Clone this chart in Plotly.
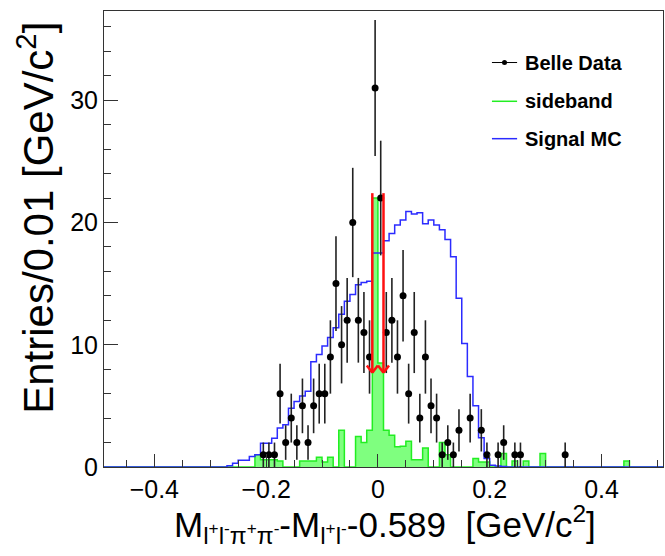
import numpy as np
import plotly.graph_objects as go

# ---------------------------------------------------------------- data
bin_width = 0.01
x_lo, x_hi = -0.49, 0.51

# Belle data: bin centres and entries
data_x = [-0.205, -0.195, -0.185, -0.175, -0.165, -0.155, -0.145, -0.135, -0.125,
          -0.115, -0.105, -0.095, -0.085, -0.075, -0.065, -0.055, -0.045, -0.035,
          -0.025, -0.015, -0.005, 0.005, 0.015, 0.025, 0.035, 0.045, 0.055, 0.065,
          0.075, 0.085, 0.095, 0.105, 0.115, 0.125, 0.135, 0.145, 0.165, 0.185,
          0.195, 0.215, 0.225, 0.245, 0.255, 0.335]
data_n = [1, 1, 1, 6, 2, 4, 2, 5, 2,
          5, 6, 6, 9, 15, 10, 12, 20, 12,
          11, 9, 31, 22, 11, 12, 9, 14, 6, 11,
          4, 9, 5, 4, 1, 2, 1, 3, 4, 3,
          1, 1, 2, 1, 1, 1]

# Signal MC (scaled), consecutive bins starting at mc_start
mc_start = -0.27
mc_values = [0.1, 0.3, 0.55, 0.55, 0.85, 1.0, 1.95, 1.95, 2.35, 3.2,
             3.45, 4.8, 5.35, 5.8, 6.2, 8.6, 9.2, 9.9, 10.6, 11.4,
             12.5, 13.55, 14.1, 14.9, 15.1, 15.2, 17.5, 17.5, 18.5, 19.1,
             19.8, 20.2, 20.9, 20.7, 20.8, 19.9, 20.2, 19.8, 19.4, 18.6,
             17.2, 13.8, 10.1, 7.4, 5.0, 2.4, 0.7, 0.15, 0.08, 0.05]

# Sideband, consecutive bins starting at sb_start
sb_start = -0.22
sb_values = [1.0, 0.6, 0.6, 0.6, 0.5, 0.0, 0.0, 0.0, 0.5, 0.5,
             0.5, 0.8, 0.4, 0.8, 0.0, 3.0, 0.0, 0.0, 2.5, 2.0,
             3.0, 22.0, 8.5, 3.0, 2.6, 1.65, 1.7, 2.1, 0.6, 0.6,
             1.55, 0.0, 0.0, 2.0, 1.0, 0.0, 0.0, 0.0, 0.0, 0.7,
             0.4, 0.4, 0.0, 0.0, 1.1, 0.0, 0.5, 0.0, 0.5, 0.0,
             0.0, 1.1, 0.0, 0.0, 0.0, 0.0, 0.0, 0.0, 0.0, 0.0,
             0.0, 0.0, 0.0, 0.0, 0.0, 0.0, 0.5]

# signal window marked by the arrows
sig_window = [-0.01, 0.01]
arrow_top, arrow_tip = 22.4, 7.7

# ---------------------------------------------------------------- helpers
n_bins = int(round((x_hi - x_lo) / bin_width))
edges = x_lo + bin_width * np.arange(n_bins + 1)


def full_hist(start, values):
    h = np.zeros(n_bins)
    i0 = int(round((start - x_lo) / bin_width))
    h[i0:i0 + len(values)] = values
    return h


def step_xy(h):
    xs = [edges[0]] + list(edges[:-1]) + [edges[-1], edges[-1]]
    ys = [0.0] + list(h) + [h[-1], 0.0]
    return xs, ys


mc_h = full_hist(mc_start, mc_values)
sb_h = full_hist(sb_start, sb_values)

fig = go.Figure()

sx, sy = step_xy(sb_h)
fig.add_trace(go.Scatter(
    x=sx, y=sy, mode="lines", line=dict(shape="hv", color="#22ee22", width=1.5),
    fill="tozeroy", fillcolor="rgba(0,255,0,0.5)", cliponaxis=False,
    name="sideband", showlegend=False, hoverinfo="skip"))

mx, my = step_xy(mc_h)
fig.add_trace(go.Scatter(
    x=mx, y=my, mode="lines", line=dict(shape="hv", color="#2b2bff", width=1.5),
    cliponaxis=False, name="Signal MC", showlegend=False, hoverinfo="skip"))

fig.add_trace(go.Scatter(
    x=data_x, y=data_n, mode="markers",
    marker=dict(color="black", size=7),
    error_y=dict(type="data", array=np.sqrt(data_n), width=0,
                 thickness=1.6, color="#222222"),
    name="Belle Data", showlegend=False))

# arrows marking the signal window
red = "#ff1010"
head_w, head_h = 0.0098, 0.6
for xc in sig_window:
    fig.add_shape(type="line", x0=xc, x1=xc, y0=arrow_top, y1=arrow_tip,
                  line=dict(color=red, width=2.5))
    for s in (-1, 1):
        fig.add_shape(type="line", x0=xc + s * head_w, x1=xc,
                      y0=arrow_tip + head_h, y1=arrow_tip,
                      line=dict(color=red, width=2.5))

# legend drawn by hand
leg_x0, leg_x1, leg_tx = 0.694, 0.739, 0.750
leg_rows = [("Belle Data", "black", 0.887), ("sideband", "#22ee22", 0.802),
            ("Signal MC", "#2b2bff", 0.720)]
for label, col, yy in leg_rows:
    fig.add_shape(type="line", xref="paper", yref="paper", x0=leg_x0, x1=leg_x1,
                  y0=yy, y1=yy, line=dict(color=col, width=1.5 if col != "black" else 1))
    fig.add_annotation(xref="paper", yref="paper", x=leg_tx, y=yy, text=label,
                       showarrow=False, xanchor="left", yanchor="middle",
                       font=dict(family="Liberation Sans", size=20, color="black",
                                 weight="bold"))
fig.add_shape(type="circle", xref="paper", yref="paper",
              x0=(leg_x0 + leg_x1) / 2 - 0.0045, x1=(leg_x0 + leg_x1) / 2 + 0.0045,
              y0=0.887 - 0.0055, y1=0.887 + 0.0055,
              fillcolor="black", line=dict(color="black", width=0))

# axis titles
fig.add_annotation(xref="paper", yref="paper", x=-0.122, y=0.546, textangle=-90,
                   text="Entries/0.01 [GeV/c<sup>2</sup>]", showarrow=False,
                   xanchor="center", yanchor="middle",
                   font=dict(family="Liberation Sans", size=42, color="black"))
fig.add_annotation(xref="paper", yref="paper", x=0.503, y=-0.127,
                   text="M<sub>l<sup>+</sup>l<sup>-</sup>π<sup>+</sup>π<sup>-</sup></sub>"
                        "-M<sub>l<sup>+</sup>l<sup>-</sup></sub>-0.589&nbsp;&nbsp;[GeV/c<sup>2</sup>]",
                   showarrow=False, xanchor="center", yanchor="middle",
                   font=dict(family="Liberation Sans", size=35, color="black"))

axis_common = dict(showgrid=False, zeroline=False, showline=True, mirror=True,
                   linecolor="#333333", linewidth=1, ticks="inside",
                   tickcolor="#333333", tickwidth=1,
                   tickfont=dict(family="Liberation Sans", size=25, color="black"))

fig.update_layout(
    width=665, height=556,
    margin=dict(l=104, r=2, t=11, b=89),
    paper_bgcolor="white", plot_bgcolor="white",
    xaxis=dict(range=[x_lo, x_hi], dtick=0.2, tick0=0, ticklen=13,
               minor=dict(ticks="inside", ticklen=7, dtick=0.05, tick0=0,
                          tickcolor="#333333"),
               **axis_common),
    yaxis=dict(range=[0, 37.3], dtick=10, tick0=0, ticklen=14,
               minor=dict(ticks="inside", ticklen=7, dtick=2, tick0=0,
                          tickcolor="#333333"),
               **axis_common),
)

fig.write_html("out.html")
